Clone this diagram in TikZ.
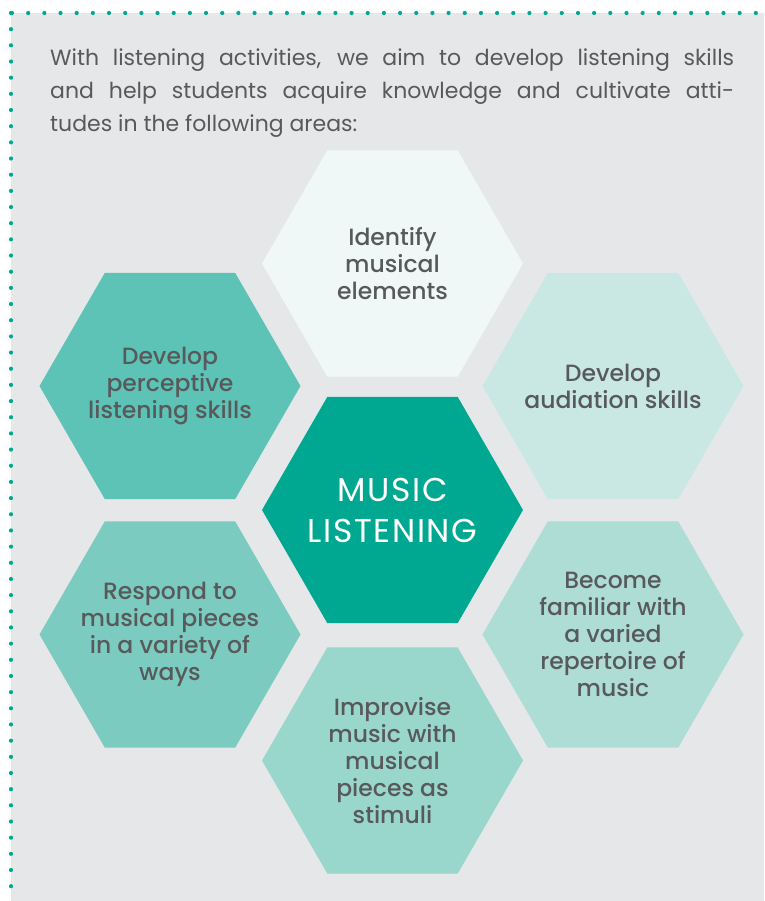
\documentclass[tikz,border=0pt]{standalone}
\usepackage{fontspec}
\setmainfont{Poppins}[BoldFont={Poppins Medium}]
\usetikzlibrary{shapes.geometric}
\definecolor{bggray}{HTML}{E6E7E9}
\definecolor{teal}{HTML}{00A891}
\definecolor{txtgray}{HTML}{58595B}
\definecolor{hexA}{HTML}{EFF8F6}
\definecolor{hexB}{HTML}{5DC3B7}
\definecolor{hexC}{HTML}{C9E8E3}
\definecolor{hexD}{HTML}{7CCBC0}
\definecolor{hexE}{HTML}{AEDDD5}
\definecolor{hexF}{HTML}{99D6CC}
\begin{document}
\begin{tikzpicture}[x=1pt,y=-1pt]
\tikzstyle{hex}= [regular polygon,regular polygon sides=6,minimum size=261pt,inner sep=0pt,outer sep=0pt]
\tikzstyle{hextext}= [inner sep=0pt,align=center,text=txtgray,font=\fontsize{23.5}{27}\selectfont\bfseries]
\tikzstyle{hubtext}= [inner sep=0pt,align=center,text=white,font=\fontsize{33}{41}\selectfont\addfontfeature{LetterSpace=5}]
\tikzstyle{dotline}= [teal,line width=4.2pt,line cap=round,dash pattern=on 0pt off 16.17pt]

\useasboundingbox (0,0) rectangle (764,901);
\fill[bggray] (11,13) rectangle (764,901);
\draw[dotline] (12,13) -- (764,13);
\draw[dotline] (11,13) -- (11,901);

\node[anchor=north west,inner sep=0pt,text width=684pt,align=justify,text=txtgray,font=\fontsize{22}{33}\selectfont] (intro) at (50,49)
	{With listening activities, we aim to develop listening skills\linebreak and help students acquire knowledge and cultivate atti-\linebreak tudes in the following areas:};

\path
	(392.5,510) node[hex,fill=teal,label={[hubtext]center:MUSIC\\LISTENING}] (music) {}
	(392.5,263.5) node[hex,fill=hexA,label={[hextext]center:Identify\\musical\\elements}] (identify) {}
	(170,386) node[hex,fill=hexB,label={[hextext]center:Develop\\perceptive\\listening skills}] (perceptive) {}
	(613,386) node[hex,fill=hexC,label={[hextext]center:Develop\\audiation skills}] (audiation) {}
	(170,634.5) node[hex,fill=hexD,label={[hextext]center:Respond to\\musical pieces\\in a variety of\\ways}] (respond) {}
	(613,634.5) node[hex,fill=hexE,label={[hextext]center:Become\\familiar with\\a varied\\repertoire of\\music}] (familiar) {}
	(392.5,760.5) node[hex,fill=hexF,label={[hextext]center:Improvise\\music with\\musical\\pieces as\\stimuli}] (improvise) {}
;
\end{tikzpicture}
\end{document}
